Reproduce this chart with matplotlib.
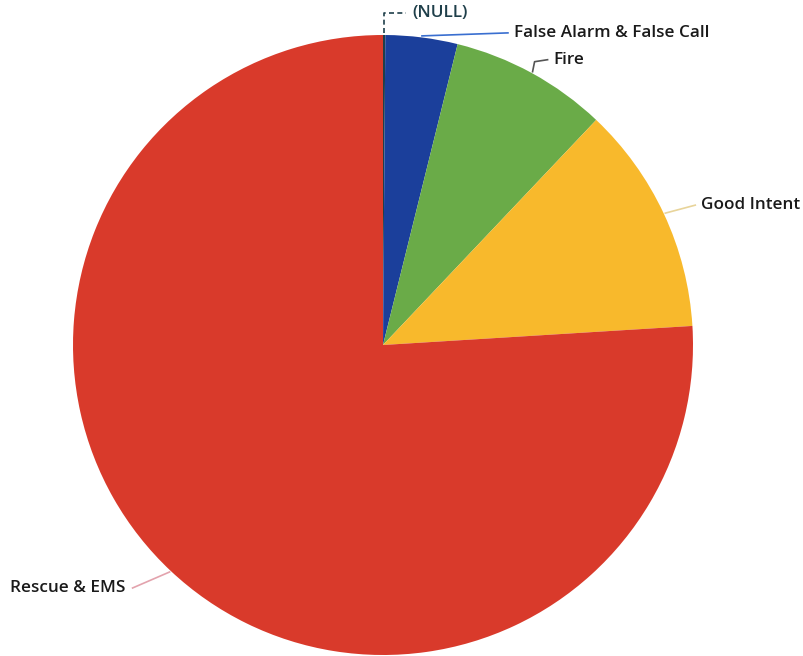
import numpy as np
import matplotlib.pyplot as plt

# slice data (percent of calls), clockwise from 12 o'clock
labels = ['(NULL)', 'False Alarm & False Call', 'Fire', 'Good Intent', 'Rescue & EMS']
values = [0.12, 3.75, 8.2, 11.95, 75.98]
colors = ['#1f3f4a', '#1b3f9b', '#6aab48', '#f8b92c', '#d93a2b']
leader_colors = ['#1f3f4a', '#3a6fd0', '#555555', '#e8d49a', '#e3a3ad']

W, H = 804, 656
cx, cy, R = 383, 311, 310

fig = plt.figure(figsize=(W / 100, H / 100), dpi=100)
ax = fig.add_axes([0, 0, 1, 1])

wedges, _ = ax.pie(values, colors=colors, startangle=90, counterclock=False,
                   center=(cx, cy), radius=R,
                   wedgeprops=dict(linewidth=0))
# pie() resets the limits, so set them afterwards
ax.set_xlim(0, W)
ax.set_ylim(0, H)
ax.set_aspect('equal')
ax.axis('off')

# leader lines: elbow offsets from the slice edge
bends = {
    '(NULL)': [(0, 20), (22, 20)],
    'False Alarm & False Call': [(86, 3)],
    'Fire': [(2, 10), (15, 12)],
    'Good Intent': [(30, 8)],
    'Rescue & EMS': [(-37, -16)],
}
fnt = dict(family=['Open Sans', 'DejaVu Sans'], fontsize=12.3, fontweight='semibold')
for w, lab, lc in zip(wedges, labels, leader_colors):
    ang = np.deg2rad((w.theta1 + w.theta2) / 2)
    x0 = cx + R * 1.005 * np.cos(ang)
    y0 = cy + R * 1.005 * np.sin(ang)
    xs, ys = [x0], [y0]
    for dx, dy in bends[lab]:
        xs.append(x0 + dx)
        ys.append(y0 + dy)
    if lab == '(NULL)':
        ax.plot(xs, ys, color=lc, lw=1.2, ls='--', dashes=(3, 2))
    else:
        ax.plot(xs, ys, color=lc, lw=1.2)
    if xs[-1] < cx:
        ax.text(xs[-1] - 7, ys[-1], lab, ha='right', va='center', color='#1a1a1a', **fnt)
    else:
        tc = '#1f3f4a' if lab == '(NULL)' else '#1a1a1a'
        ax.text(xs[-1] + 6, ys[-1], lab, ha='left', va='center', color=tc, **fnt)

fig.savefig('out.png', dpi=100, facecolor='white')
